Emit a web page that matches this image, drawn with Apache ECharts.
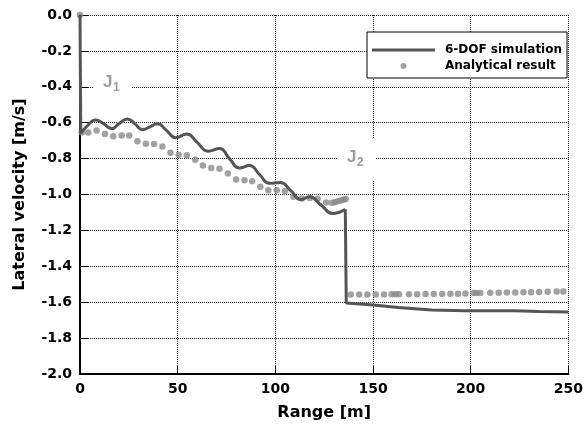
<!DOCTYPE html>
<html>
<head>
<meta charset="utf-8">
<script src="https://cdn.jsdelivr.net/npm/echarts@6/dist/echarts.min.js"></script>
<style>html,body{margin:0;padding:0;background:#fff}#c{width:586px;height:429px}</style>
</head>
<body>
<div id="c"></div>
<script>
// ---- data ----
const xTicks = [0, 50, 100, 150, 200, 250];
const yTicks = [0.0, -0.2, -0.4, -0.6, -0.8, -1.0, -1.2, -1.4, -1.6, -1.8, -2.0];
const seriesNames = ['6-DOF simulation', 'Analytical result'];

// 6-DOF simulation: initial step, oscillating segment, jump and tail
const simStart = [[0, 0.0], [0.4, -0.66]];
const simOsc = [
  [0.4, -0.66], [3.5, -0.62], [8, -0.585], [12, -0.605], [16.2, -0.633], [20, -0.605],
  [24.3, -0.579], [28, -0.605], [32, -0.639], [36, -0.622], [39.7, -0.606], [44, -0.64],
  [49, -0.684], [54.6, -0.663], [60, -0.71], [65.5, -0.759], [71.4, -0.744], [76.5, -0.8],
  [81.6, -0.852], [86.7, -0.839], [92, -0.89], [96.9, -0.938], [102.5, -0.933], [108, -0.98],
  [113, -1.028], [117.5, -1.013], [123.5, -1.06], [129.3, -1.106], [135.8, -1.082]
];
const simTail = [
  [135.8, -1.082], [136.3, -1.604], [150, -1.615], [163, -1.63], [180, -1.643],
  [197, -1.648], [222, -1.648], [235, -1.652], [250, -1.655]
];

// Analytical result
const anaPre = [
  [0, 0.0], [0.9, -0.654], [4.2, -0.654], [8.5, -0.643], [12.8, -0.663], [17.0, -0.676],
  [21.3, -0.671], [25.2, -0.672], [29.4, -0.704], [33.7, -0.717], [37.9, -0.718], [42.2, -0.732],
  [46.3, -0.768], [50.5, -0.778], [54.7, -0.782], [59.0, -0.806], [62.9, -0.839], [67.2, -0.852],
  [71.4, -0.857], [75.7, -0.883], [79.9, -0.917], [84.2, -0.92], [88.1, -0.926], [92.3, -0.957],
  [96.4, -0.976], [100.7, -0.976], [104.9, -0.981], [109.2, -1.013], [113.6, -1.022], [117.7, -1.019],
  [121.6, -1.024], [126.0, -1.045], [129.0, -1.046], [130.5, -1.043], [132.0, -1.038],
  [133.5, -1.033], [135.0, -1.028], [136.0, -1.025]
];
const anaPost = [
  [138.6, -1.557], [142.9, -1.557], [147.1, -1.557], [151.4, -1.557], [155.6, -1.557],
  [159.5, -1.556], [161.5, -1.556], [163.3, -1.556], [168.4, -1.556], [172.6, -1.556],
  [176.9, -1.555], [181.1, -1.555], [185.4, -1.555], [189.6, -1.553], [193.5, -1.553],
  [197.3, -1.552], [201.5, -1.549], [202.9, -1.549], [204.9, -1.549], [210.0, -1.548],
  [214.3, -1.547], [218.5, -1.546], [222.8, -1.546], [227.0, -1.545], [230.9, -1.544],
  [235.0, -1.543], [239.4, -1.542], [244.0, -1.541], [247.4, -1.540]
];
const annotations = ['J', '1', 'J', '2'];

// ---- chart ----
const chart = echarts.init(document.getElementById('c'));
const tickFont = {fontFamily: 'DejaVu Sans', fontWeight: 'bold', fontSize: 14, color: '#000'};
const nameFont = {fontFamily: 'DejaVu Sans', fontWeight: 'bold', fontSize: 16, color: '#000'};
const lineColor = '#555';
const dotColor = '#8a8a8a';
const jColor = '#9a9a9a';
const gridLine = {show: true, showMinLine: true, showMaxLine: true, lineStyle: {color: '#222', width: 1, type: [1, 1]}};

function jLabel(cx, cy, main, sub) {
  return {
    type: 'group', z: 50,
    children: [
      {type: 'rect', z: 50, shape: {x: cx - 20, y: cy - 21, width: 39, height: 42}, style: {fill: '#fff'}},
      {type: 'text', z: 51, x: cx - 10, y: cy - 10, style: {text: main, fill: jColor, fontFamily: 'Liberation Sans', fontWeight: 'bold', fontSize: 17}},
      {type: 'text', z: 51, x: cx, y: cy - 2, style: {text: sub, fill: jColor, fontFamily: 'Liberation Sans', fontWeight: 'bold', fontSize: 12}}
    ]
  };
}

chart.setOption({
  animation: false,
  backgroundColor: '#fff',
  grid: {left: 80, right: 16, top: 15, bottom: 55},
  legend: {
    data: [
      {name: seriesNames[0], icon: 'path://M0,0L0.01,0L0.01,0.01Z M0,1.6L63,1.6L63,4.4L0,4.4Z M0,6L0.01,6L0.01,5.99Z'},
      {name: seriesNames[1], icon: 'circle'}
    ],
    orient: 'vertical', left: 367, top: 32,
    padding: [11, 5, 5, 5], itemGap: 2, itemWidth: 63, itemHeight: 6,
    backgroundColor: '#fff', borderColor: '#000', borderWidth: 1,
    textStyle: {fontFamily: 'DejaVu Sans', fontWeight: 'bold', fontSize: 12, color: '#000', lineHeight: 14, padding: [0, 0, 0, 5]},
    z: 60
  },
  xAxis: {
    type: 'value', min: xTicks[0], max: xTicks[xTicks.length - 1], interval: 50, z: 1,
    name: 'Range [m]', nameLocation: 'middle', nameGap: 31, nameTextStyle: nameFont,
    axisLine: {show: true, onZero: false, lineStyle: {color: '#000', width: 2}},
    axisTick: {show: true, inside: true, length: 8, lineStyle: {color: '#000', width: 1}},
    axisLabel: Object.assign({margin: 8, formatter: v => String(v)}, tickFont),
    splitLine: gridLine
  },
  yAxis: {
    type: 'value', min: yTicks[yTicks.length - 1], max: yTicks[0], interval: 0.2, z: 1,
    name: 'Lateral velocity [m/s]', nameLocation: 'middle', nameGap: 52, nameTextStyle: nameFont,
    axisLine: {show: true, onZero: false, lineStyle: {color: '#000', width: 2}},
    axisTick: {show: true, inside: true, length: 8, lineStyle: {color: '#000', width: 1}},
    axisLabel: Object.assign({margin: 8, formatter: v => (Math.abs(v) < 1e-9 ? 0 : v).toFixed(1)}, tickFont),
    splitLine: gridLine
  },
  graphic: [
    jLabel(113, 84, annotations[0], annotations[1]),
    jLabel(357, 159, annotations[2], annotations[3])
  ],
  series: [
    {name: seriesNames[1], type: 'scatter', data: anaPre, symbolSize: 6.5, itemStyle: {color: dotColor}, z: 3},
    {name: seriesNames[1], type: 'scatter', data: anaPost, symbolSize: 6.5, itemStyle: {color: dotColor}, z: 3},
    {name: seriesNames[0], type: 'line', data: simOsc, smooth: 0.5, symbol: 'none', showSymbol: false, lineStyle: {color: lineColor, width: 3}, itemStyle: {color: lineColor}, z: 4},
    {name: seriesNames[0], type: 'line', data: simStart, symbol: 'none', showSymbol: false, lineStyle: {color: lineColor, width: 3}, itemStyle: {color: lineColor}, z: 4},
    {name: seriesNames[0], type: 'line', data: simTail, symbol: 'none', showSymbol: false, lineStyle: {color: lineColor, width: 3}, itemStyle: {color: lineColor}, z: 4}
  ]
});
</script>
</body>
</html>
